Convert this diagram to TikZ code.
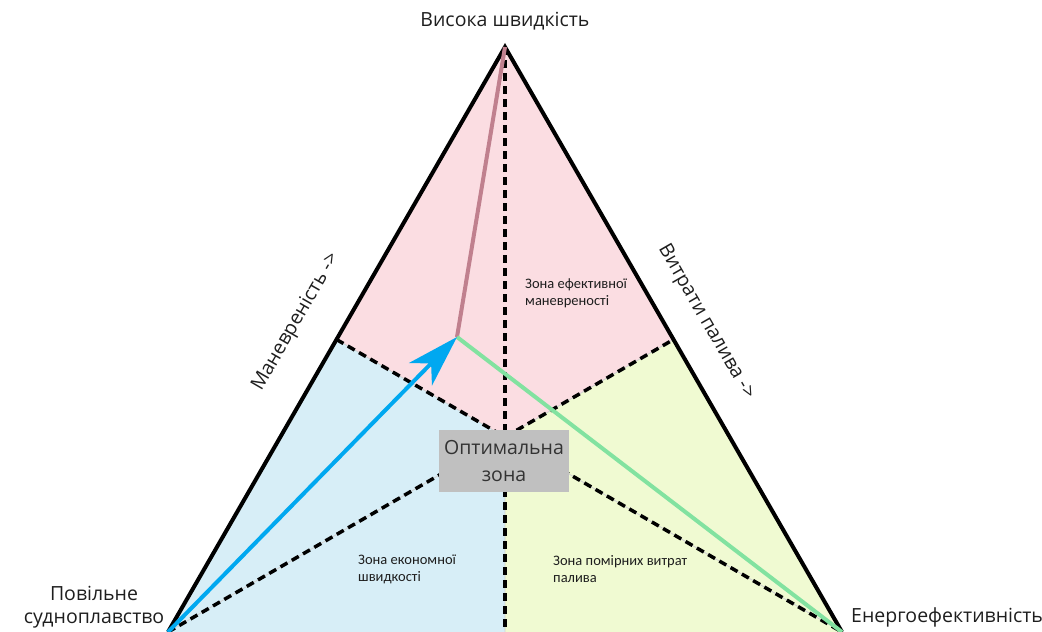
\documentclass[tikz,border=0pt]{standalone}
\usepackage{fontspec}
\setmainfont{Open Sans}
\newfontfamily\smallfam{Carlito}
\usetikzlibrary{arrows.meta}
\definecolor{pinkfill}{RGB}{251,221,226}
\definecolor{bluefill}{RGB}{215,238,247}
\definecolor{greenfill}{RGB}{240,250,210}
\definecolor{pinkline}{RGB}{192,128,142}
\definecolor{blueline}{RGB}{0,168,240}
\definecolor{greenline}{RGB}{130,226,160}
\definecolor{boxfill}{RGB}{192,192,192}
\definecolor{txt}{RGB}{30,30,30}
\tikzset{
  region/.style={draw=gray!35, line width=0.8pt},
  divider/.style={black, line width=3.5pt, dash pattern=on 8pt off 5pt},
  outline/.style={black, line width=4pt, line join=miter},
  biglabel/.style={font=\fontsize{19.5}{23.5}\selectfont, text=txt, align=center, inner sep=0pt},
  zonelabel/.style={font=\smallfam\fontsize{14.5}{17}\selectfont, text=txt, align=left, anchor=north west, inner sep=0pt},
  optbox/.style={fill=boxfill, minimum width=130pt, minimum height=62pt, inner sep=0pt, align=center, text=black!80, font=\fontsize{19.5}{27}\selectfont}
}
\begin{document}
\begin{tikzpicture}[x=1pt,y=-1pt]
\useasboundingbox (0,0) rectangle (1042,632);
\coordinate (A) at (505,47);
\coordinate (L) at (168,632);
\coordinate (R) at (842,632);
\coordinate (ML) at (336.5,339.5);
\coordinate (MR) at (673.5,339.5);
\coordinate (MB) at (505,632);
\coordinate (C) at (505,437);
\coordinate (P) at (457,337);
% regions
\fill[pinkfill] (A) -- (ML) -- (C) -- (MR) -- cycle;
\fill[bluefill] (ML) -- (L) -- (MB) -- (C) -- cycle;
\fill[greenfill] (MR) -- (R) -- (MB) -- (C) -- cycle;
\draw[region] (ML) -- (C) -- (MR) (C) -- (MB) (L) -- (C) -- (R);
% dividers
\draw[divider] (ML) -- (C) -- (MR);
\draw[divider] (L) -- (C) -- (R);
\draw[divider] (A) -- (MB);
% outline
\draw[outline] (L) -- (A) -- (R);
% coloured lines
\draw[pinkline, line width=4pt] (A) -- (P);
\draw[greenline, line width=4pt] (P) -- (R);
\draw[blueline, line width=4pt, -{Stealth[length=52pt,width=32pt,inset=15pt]}] (L) -- (P);
% box
\node[optbox] (opt) at (504,461) {Оптимальна\\зона};
% labels
\node[biglabel] (top) at (505,21) {Висока швидкість};
\node[biglabel] (bl) at (94,607) {Повільне\\судноплавство};
\node[biglabel, anchor=west] (br) at (851,617) {Енергоефективність};
\node[biglabel, rotate=60] (man) at (296,322) {Маневреність ->};
\node[biglabel, rotate=-60] (fuel) at (706,322) {Витрати палива ->};
\node[zonelabel] (z1) at (525,279) {Зона ефективної\\маневреності};
\node[zonelabel] (z2) at (358,555) {Зона економної\\швидкості};
\node[zonelabel] (z3) at (553,555) {Зона помірних витрат\\палива};
\end{tikzpicture}
\end{document}
